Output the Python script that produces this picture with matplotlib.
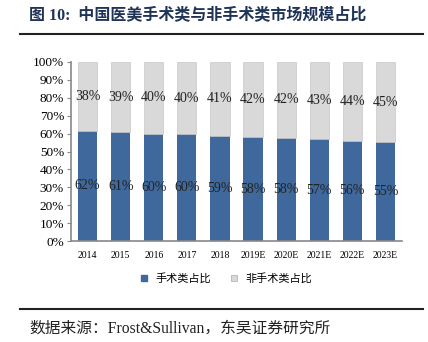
import matplotlib
matplotlib.use("Agg")
import matplotlib.pyplot as plt
import numpy as np
from matplotlib.lines import Line2D

plt.rcParams['font.family'] = ['Liberation Serif', 'Noto Sans CJK SC']

# data
years = ["2014", "2015", "2016", "2017", "2018", "2019E", "2020E", "2021E", "2022E", "2023E"]
surgical = [61.6, 60.7, 60.0, 59.5, 58.9, 58.0, 57.6, 56.8, 56.0, 55.2]
surgical_lbl = [62, 61, 60, 60, 59, 58, 58, 57, 56, 55]
nonsurg_lbl = [38, 39, 40, 40, 41, 42, 42, 43, 44, 45]
nonsurgical = [100 - v for v in surgical]

blue = "#3f689c"
grey = "#d9d9d9"

fig = plt.figure(figsize=(4.28, 3.42), dpi=100)
ax = fig.add_axes([0.166, 0.295, 0.773, 0.524])

x = np.arange(len(years))
ax.bar(x, surgical, width=0.58, color=blue, label="手术类占比")
ax.bar(x, nonsurgical, width=0.58, bottom=surgical, color=grey,
       edgecolor="#c8c8c8", linewidth=0.5, label="非手术类占比")

for i in range(len(years)):
    ax.text(x[i], surgical[i] / 2, f"{surgical_lbl[i]}%", ha="center", va="center",
            fontsize=10, color="#222222")
    ax.text(x[i], surgical[i] + nonsurgical[i] / 2, f"{nonsurg_lbl[i]}%", ha="center",
            va="center", fontsize=10, color="#222222")

ax.set_xlim(-0.5, len(years) - 0.5)
ax.set_ylim(0, 100)
ax.set_yticks(range(0, 101, 10))
ax.set_yticklabels([f"{v}%" for v in range(0, 101, 10)], fontsize=9.5)
ax.set_xticks(x)
ax.set_xticklabels(years, fontsize=7)
ax.tick_params(axis="x", length=0, pad=7)
ax.tick_params(axis="y", length=3, color="#888888", pad=2)
for s in ["top", "right"]:
    ax.spines[s].set_visible(False)
for s in ["left", "bottom"]:
    ax.spines[s].set_color("#888888")
    ax.spines[s].set_linewidth(1.2)

handles = [
    Line2D([], [], marker="s", linestyle="none", markersize=4.5, markerfacecolor=blue,
           markeredgecolor=blue),
    Line2D([], [], marker="s", linestyle="none", markersize=4.5, markerfacecolor=grey,
           markeredgecolor="#aaaaaa", markeredgewidth=0.5),
]
fig.legend(handles, ["手术类占比", "非手术类占比"], loc="center", bbox_to_anchor=(0.52, 0.187),
           ncol=2, frameon=False, handletextpad=0.1, columnspacing=1.0,
           prop={"family": ["Noto Sans CJK SC"], "size": 8})

# title and source
fig.text(0.068, 0.955, "图 10:  中国医美手术类与非手术类市场规模占比", fontsize=11.5,
         fontweight="bold", color="#1f3356", va="center",
         family=["Liberation Serif", "Noto Sans CJK SC"])
fig.add_artist(Line2D([0.047, 0.988], [0.902, 0.902], color="#222222", linewidth=1.5))
fig.add_artist(Line2D([0.047, 0.988], [0.097, 0.097], color="#222222", linewidth=1.5))
fig.text(0.068, 0.04, "数据来源：Frost&Sullivan，东吴证券研究所", fontsize=11.3,
         color="#222222", va="center", family=["Liberation Serif", "Noto Sans CJK SC"])

fig.savefig("out.png", dpi=100)
